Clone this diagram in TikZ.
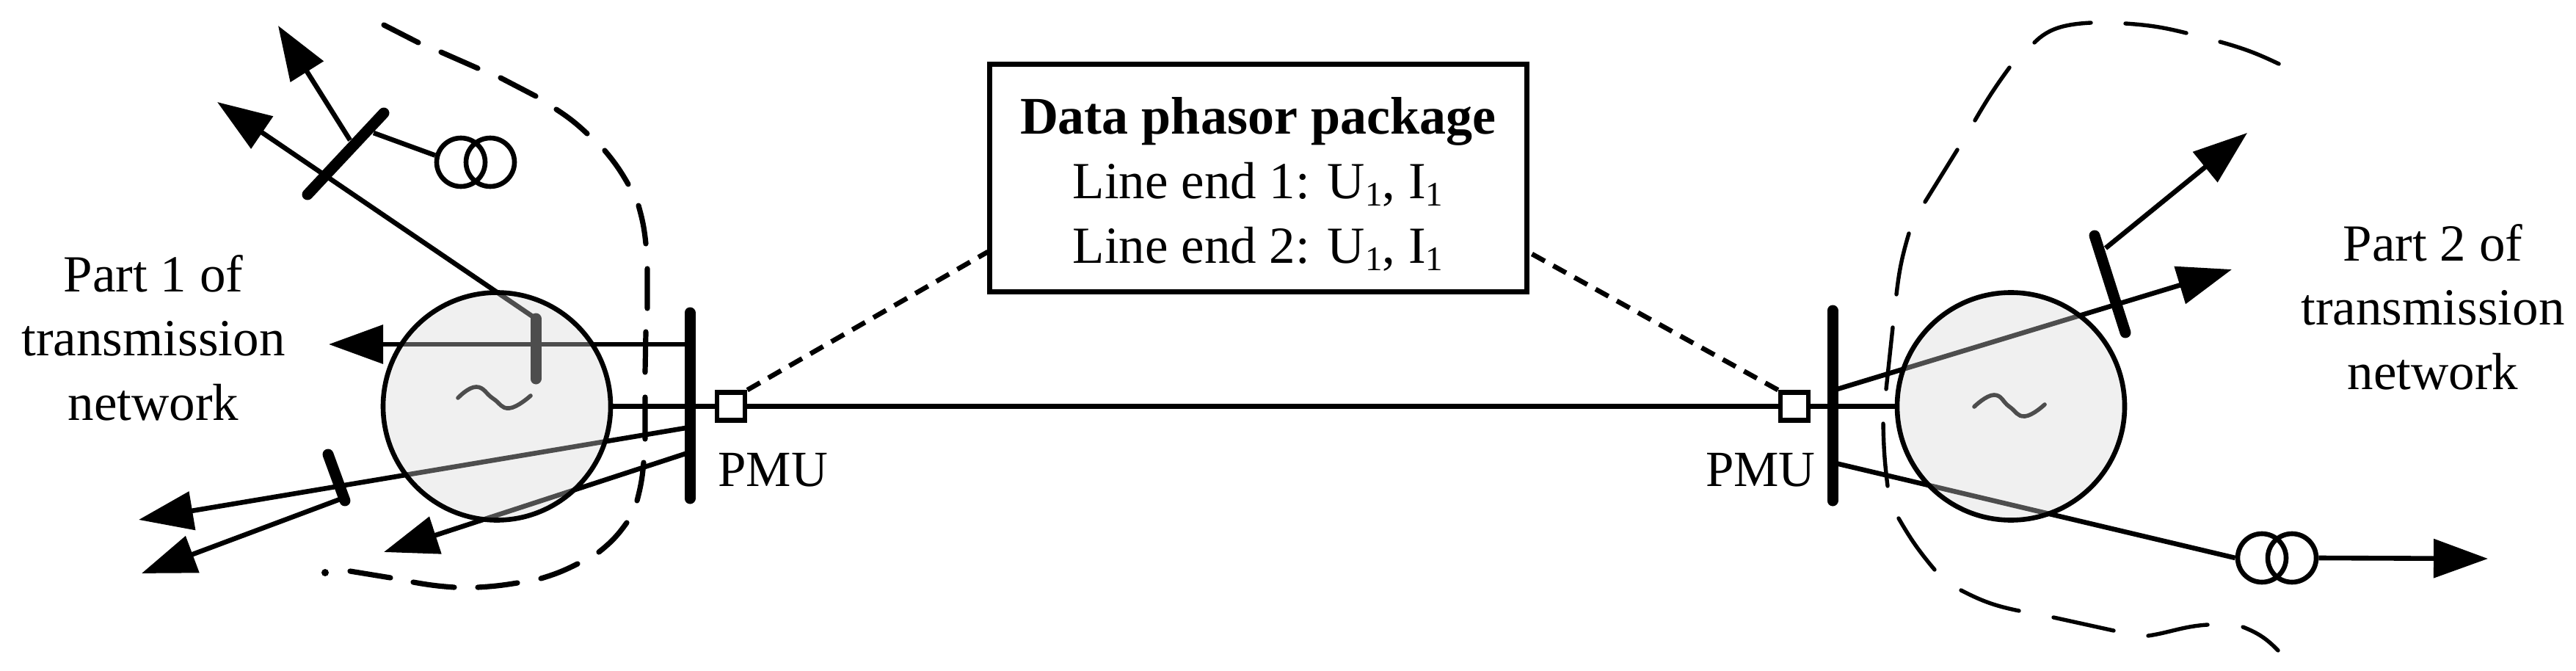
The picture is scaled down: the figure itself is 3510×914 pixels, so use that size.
\documentclass[tikz,border=0pt]{standalone}
\usepackage{fontspec}
\setmainfont{Liberation Serif}
\usetikzlibrary{arrows.meta}
\newcommand{\subone}{\raisebox{-5pt}{\fontsize{23.5}{24}\selectfont 1}}
\tikzset{
  thinln/.style={line width=3.3pt},
  busbar/.style={line width=7.5pt,line cap=round},
  arr/.style={line width=3.3pt,-{Triangle[length=37pt,width=26pt]}},
  zone/.style={circle,draw=black,line width=3.3pt,fill=black!16,fill opacity=.36,draw opacity=1,minimum size=155pt,inner sep=0pt},
  trafo/.style={circle,draw=black,line width=3.3pt,minimum size=33pt,inner sep=0pt},
  pmubox/.style={rectangle,draw=black,fill=white,line width=3.3pt,minimum size=19pt,inner sep=0pt},
  pkgbox/.style={rectangle,draw=black,fill=white,line width=3.5pt,minimum width=366pt,minimum height=155pt,inner sep=0pt},
  lbl/.style={align=center,inner sep=0pt,font=\fontsize{35.5}{43.8}\selectfont},
  linkdash/.style={line width=3.3pt,dash pattern=on 10pt off 6.5pt},
  ldash/.style={line width=3.6pt,line cap=round},
  rdash/.style={line width=2.7pt,line cap=round},
  wave/.style={line width=2.8pt,draw=black,line cap=round},
}
\begin{document}
\begin{tikzpicture}[x=0.5pt,y=-0.5pt]
\useasboundingbox (0,0) rectangle (3510,914);
% named points
\coordinate (b1t) at (523,154); \coordinate (b1b) at (419,265);
\coordinate (b1m) at (509,181); \coordinate (b1n) at (477,191);
\coordinate (b2t) at (730,434); \coordinate (b2b) at (730,516);
\coordinate (b3t) at (447,619); \coordinate (b3b) at (470,682);
\coordinate (mLt) at (940,426); \coordinate (mLb) at (940,679);
\coordinate (mRt) at (2497,423); \coordinate (mRb) at (2497,682);
\coordinate (b4t) at (2854,321); \coordinate (b4b) at (2896,453);
\coordinate (a1) at (379,35);
\coordinate (a2) at (296,139);
\coordinate (a3) at (448,469); \coordinate (a3s) at (940,469);
\coordinate (a4) at (189,708); \coordinate (a4s) at (940,582);
\coordinate (a5) at (193,781); \coordinate (a5s) at (466,679);
\coordinate (a6) at (523,752); \coordinate (a6s) at (940,616);
\coordinate (a7) at (3062,181); \coordinate (a7s) at (2869,338);
\coordinate (a8) at (3041,367); \coordinate (a8s) at (2497,532);
\coordinate (a9) at (3390,761);
\coordinate (t2s) at (2497,630);
\coordinate (pkgL) at (1346,343); \coordinate (pkgR) at (2082,343);
\coordinate (zRw) at (2585,553.5);
% connectors under the shaded areas
\draw[arr] (b2t) -- (a2);
\draw[arr] (a3s) -- (a3);
\draw[arr] (a4s) -- (a4);
\draw[arr] (a6s) -- (a6);
\draw[arr] (a8s) -- (a8);
\draw[busbar] (b2t) -- (b2b);
\draw[wave] plot[smooth,tension=0.8] coordinates {(624,542) (649,527) (672,543) (694,556) (723,539)};
\draw[wave] plot[smooth,tension=0.8] coordinates {(2690,554) (2717,538) (2738,554) (2759,567) (2786,551)};
\node[trafo] (t2a) at (3082,760) {};
\node[trafo] (t2b) at (3123,760) {};
\draw[thinln] (t2s) -- (t2a.west);
% shaded areas
\node[zone] (zL) at (677,553.5) {};
\node[zone] (zR) at (2740,553.5) {};
% buses
\draw[busbar] (b1t) -- (b1b);
\draw[busbar] (b3t) -- (b3b);
\draw[busbar] (mLt) -- (mLb);
\draw[busbar] (mRt) -- (mRb);
\draw[busbar] (b4t) -- (b4b);
% other connectors
\draw[arr] (b1n) -- (a1);
\draw[arr] (a5s) -- (a5);
\draw[arr] (a7s) -- (a7);
\node[trafo] (t1a) at (628,221) {};
\node[trafo] (t1b) at (668,221) {};
\draw[thinln] (b1m) -- (t1a.165);
\draw[arr] (t2b.east) -- (a9);
\node[pmubox] (pL) at (996,553.5) {};
\node[pmubox] (pR) at (2445,553.5) {};
\draw[thinln] (zL.east) -- (pL.west);
\draw[thinln] (pR.east) -- (zRw);
\draw[thinln] (pL.east) -- (pR.west);
% data package
\node[pkgbox] (pkg) at (1714,242.5) {};
\node[lbl] (pkgtext) at (1714,251) {{\fontsize{36}{43.8}\selectfont\bfseries Data phasor package}\\Line end 1: U\subone, I\subone\\Line end 2: U\subone, I\subone};
\draw[linkdash] (pL.north east) -- (pkgL);
\draw[linkdash] (pR.north west) -- (pkgR);
% labels
\node[lbl] (part1) at (209,460) {Part 1 of\\transmission\\network};
\node[lbl] (part2) at (3315,418) {Part 2 of\\transmission\\network};
\node[lbl,anchor=base west,font=\fontsize{34.5}{40}\selectfont] (pmuL) at (978,662) {PMU};
\node[lbl,anchor=base east,font=\fontsize{34.5}{40}\selectfont] (pmuR) at (2474,662) {PMU};
% left boundary dashes
\draw[ldash] (523,34) -- (570,58) (601,71) -- (651,93) (682,106) -- (730,131)
  (758,149) to[bend left=5] (800,182) (824,205) to[bend left=5] (856,251)
  (870,280) to[bend left=5] (880,332) (882,366) -- (882,420) (880,452) -- (879,507)
  (879,541) -- (879,598) (877,630) to[bend left=5] (868,682)
  (854,712) to[bend left=8] (816,752) (787,768) to[bend left=5] (737,788)
  (705,794) to[bend left=3] (651,800) (619,800) to[bend left=3] (563,793)
  (532,787) -- (477,778);
\fill (443,780) circle (2.5pt);
% right boundary dashes
\draw[rdash] (3105,87) to[bend right=5] (3025,57) (2979,45) to[bend right=5] (2896,32)
  (2849,31) .. controls (2810,33) and (2790,40) .. (2772,58)
  (2738,92) to[bend right=3] (2691,164) (2667,204) -- (2623,275)
  (2601,318) to[bend right=5] (2584,401) (2579,446) -- (2570,530)
  (2566,577) to[bend right=3] (2572,662) (2587,706) to[bend right=5] (2636,776)
  (2672,804) to[bend right=8] (2751,832) (2798,841) -- (2880,859)
  (2927,866) .. controls (2955,862) and (2975,853) .. (3008,851)
  (3056,854) to[bend left=12] (3104,886);
\end{tikzpicture}
\end{document}
